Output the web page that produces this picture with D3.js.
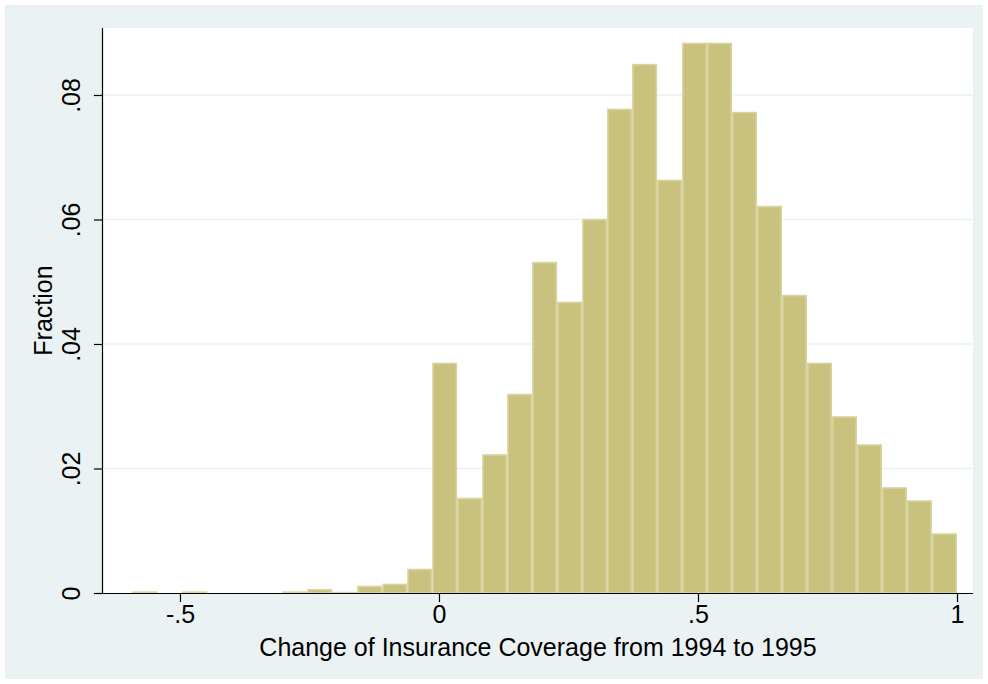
<!DOCTYPE html>
<html>
<head>
<meta charset="utf-8">
<script src="https://cdn.jsdelivr.net/npm/d3@7"></script>
<style>
  html, body { margin: 0; padding: 0; background: #ffffff; }
  svg { display: block; }
  text { font-family: "Liberation Sans", Arial, sans-serif; fill: #000; }
</style>
</head>
<body>
<div id="chart"></div>
<script>
// ---- data ----
const binStart = -0.592;
const binWidth = 0.04824;
const fractions = [
  0.00027, 0, 0.00027, 0, 0, 0, 0.00027, 0.00064, 0.0002, 0.00117, 0.0015, 0.0039,
  0.0370, 0.0153, 0.0223, 0.0320, 0.0532, 0.0468, 0.0601, 0.0778, 0.0850, 0.0664,
  0.0884, 0.0884, 0.0773, 0.0622, 0.0479, 0.0370, 0.0284, 0.0239, 0.0170, 0.0149, 0.0096
];
const xTicks = [-0.5, 0, 0.5, 1];
const xTickLabels = ["-.5", "0", ".5", "1"];
const yTicks = [0, 0.02, 0.04, 0.06, 0.08];
const yTickLabels = ["0", ".02", ".04", ".06", ".08"];
const xTitle = "Change of Insurance Coverage from 1994 to 1995";
const yTitle = "Fraction";

// ---- layout ----
const W = 988, H = 684;
const plot = { left: 103, right: 973, top: 28, bottom: 593 };

const svg = d3.select("#chart").append("svg").attr("width", W).attr("height", H);

svg.append("rect").attr("x", 5).attr("y", 5).attr("width", W - 10).attr("height", H - 10)
  .attr("fill", "#EAF2F3");
svg.append("rect").attr("x", plot.left).attr("y", plot.top)
  .attr("width", plot.right - plot.left).attr("height", plot.bottom - plot.top)
  .attr("fill", "#ffffff");

const x = d3.scaleLinear().domain([-0.6486, 1.0309]).range([plot.left, plot.right]);
const y = d3.scaleLinear().domain([0, 0.09076]).range([plot.bottom, plot.top]);

// grid
svg.append("g").selectAll("line").data(yTicks.filter(d => d > 0)).join("line")
  .attr("x1", plot.left).attr("x2", plot.right)
  .attr("y1", d => y(d)).attr("y2", d => y(d))
  .attr("stroke", "#EAF2F3").attr("stroke-width", 1.6);

// bars
const bins = fractions.map((v, i) => ({ x0: binStart + i * binWidth, x1: binStart + (i + 1) * binWidth, v }));
svg.append("g").selectAll("rect").data(bins.filter(b => b.v > 0)).join("rect")
  .attr("x", b => x(b.x0) + 0.8)
  .attr("width", b => x(b.x1) - x(b.x0) - 1.6)
  .attr("y", b => y(b.v) + 0.8)
  .attr("height", b => Math.max(0, y(0) - y(b.v) - 0.8))
  .attr("fill", "#C9C17E")
  .attr("stroke", "#D9D39F")
  .attr("stroke-width", 1.6);

// axes
const fs = 25;
const xAxis = d3.axisBottom(x).tickValues(xTicks).tickSize(9).tickPadding(3)
  .tickFormat((d, i) => xTickLabels[i]);
const gx = svg.append("g").attr("transform", `translate(0,${plot.bottom})`).call(xAxis);
gx.select(".domain").attr("d", `M${plot.left},0.5H${plot.right}`).attr("stroke", "#000").attr("stroke-width", 1.2);
gx.selectAll(".tick line").attr("stroke", "#000").attr("stroke-width", 1.2);
gx.selectAll(".tick text").attr("font-size", fs).attr("font-family", "Liberation Sans, Arial, sans-serif").attr("fill", "#000");

const yAxis = d3.axisLeft(y).tickValues(yTicks).tickSize(9).tickPadding(0)
  .tickFormat((d, i) => yTickLabels[i]);
const gy = svg.append("g").attr("transform", `translate(${plot.left},0)`).call(yAxis);
gy.select(".domain").attr("d", `M-0.5,${plot.top}V${plot.bottom}`).attr("stroke", "#000").attr("stroke-width", 1.2);
gy.selectAll(".tick line").attr("stroke", "#000").attr("stroke-width", 1.2);
gy.selectAll(".tick text")
  .attr("font-size", fs).attr("font-family", "Liberation Sans, Arial, sans-serif").attr("fill", "#000")
  .attr("x", null).attr("dy", null)
  .attr("text-anchor", "middle")
  .attr("transform", "translate(-23,0) rotate(-90)");

// titles
svg.append("text").attr("x", (plot.left + plot.right) / 2).attr("y", 656)
  .attr("text-anchor", "middle").attr("font-size", fs).text(xTitle);
svg.append("text").attr("transform", `translate(52,${(plot.top + plot.bottom) / 2}) rotate(-90)`)
  .attr("text-anchor", "middle").attr("font-size", fs).text(yTitle);
</script>
</body>
</html>
